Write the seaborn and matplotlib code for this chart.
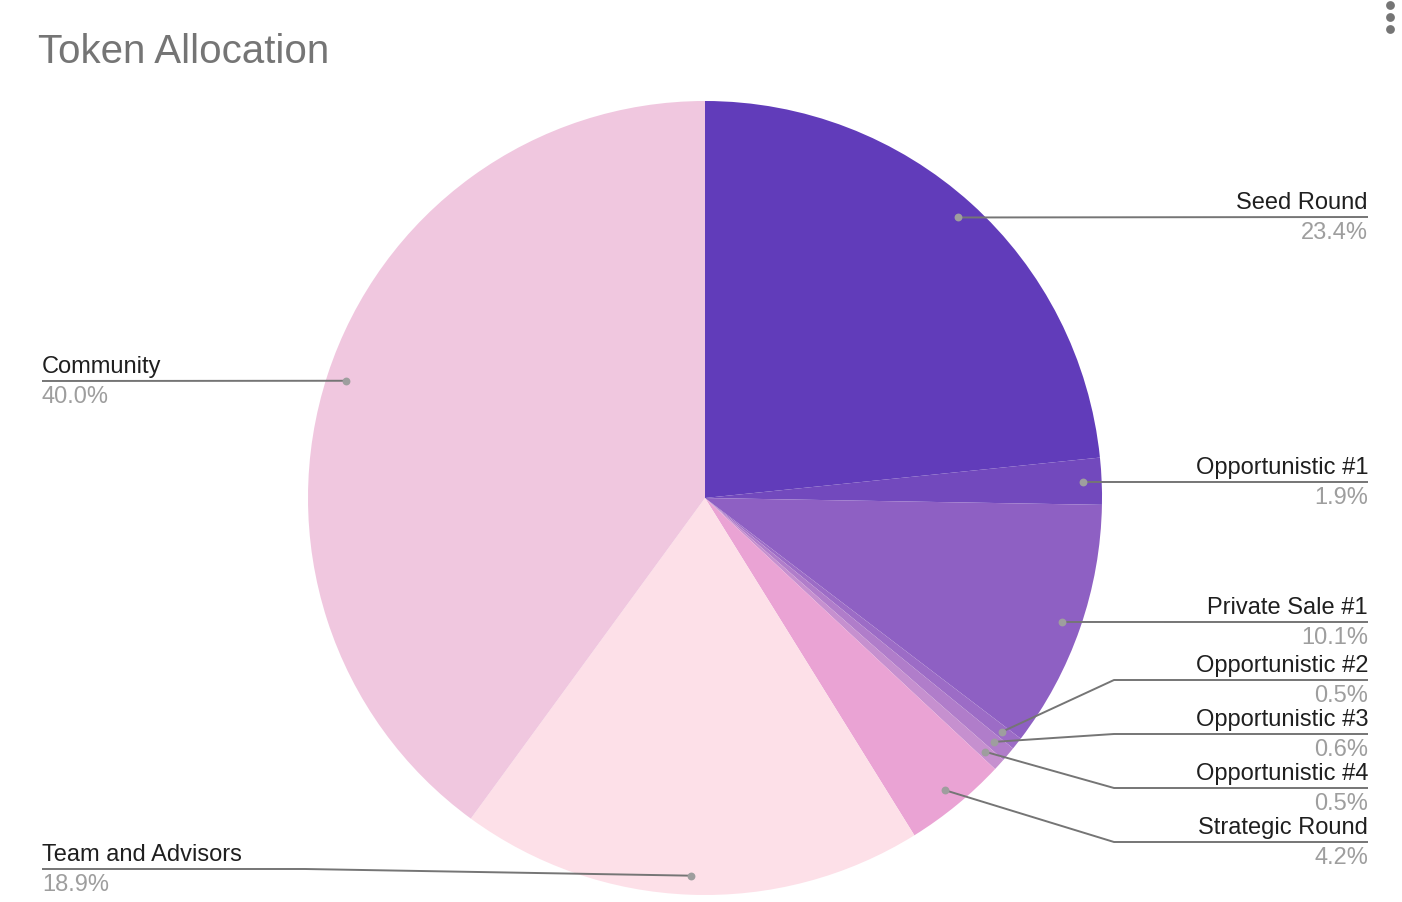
import matplotlib
matplotlib.use("Agg")
import matplotlib.pyplot as plt
import seaborn as sns
import numpy as np

# ---- data ----
labels = ["Seed Round", "Opportunistic #1", "Private Sale #1", "Opportunistic #2",
          "Opportunistic #3", "Opportunistic #4", "Strategic Round",
          "Team and Advisors", "Community"]
values = [23.4, 1.9, 10.1, 0.5, 0.6, 0.5, 4.2, 18.9, 40.0]
pct_labels = ["23.4%", "1.9%", "10.1%", "0.5%", "0.6%", "0.5%", "4.2%", "18.9%", "40.0%"]
title = "Token Allocation"

# ---- styling / layout ----
colors = ["#613cba", "#7249bd", "#8e60c3", "#9c6cc6", "#b07dca", "#c690cf",
          "#eaa3d4", "#fde0e8", "#f0c7df"]
W, H = 1402, 902
CX, CY, R = 705, 498, 397          # pie centre / radius in screen pixels
# label line y (screen px, from top), side, elbow x (None = straight)
label_line_y = [217, 482, 622, 680, 734, 788, 842, 869, 381]
label_side = ["R", "R", "R", "R", "R", "R", "R", "L", "L"]
label_elbow = [None, None, None, 1114, 1114, 1114, 1114, 305, None]
RIGHT_X, LEFT_X = 1368, 42

sns.set_theme(style="white")
plt.rcParams["font.family"] = ["Liberation Sans", "DejaVu Sans"]

fig = plt.figure(figsize=(W / 100, H / 100), dpi=100)
ax = fig.add_axes([0, 0, 1, 1])

def sy(y):
    return H - y

wedges, _ = ax.pie(values, colors=colors, startangle=90, counterclock=False,
                   center=(CX, sy(CY)), radius=R, frame=True,
                   wedgeprops=dict(linewidth=0))
ax.set_xlim(0, W)
ax.set_ylim(0, H)
ax.set_aspect("equal")
ax.axis("off")

line_col = "#757575"
dot_col = "#9e9e9e"
fs = 17
for w, name, pct, ly, side, ex in zip(wedges, labels, pct_labels,
                                       label_line_y, label_side, label_elbow):
    mid = np.deg2rad((w.theta1 + w.theta2) / 2)
    dx = CX + 0.952 * R * np.cos(mid)
    dy = sy(CY) + 0.952 * R * np.sin(mid)
    end_x = RIGHT_X if side == "R" else LEFT_X
    if ex is None:
        xs, ys = [dx, end_x], [dy, sy(ly)]
    else:
        xs, ys = [dx, ex, end_x], [dy, sy(ly), sy(ly)]
    ax.plot(xs, ys, color=line_col, lw=1.4, solid_capstyle="butt", zorder=3)
    ax.scatter([dx], [dy], s=32, color=dot_col, zorder=4, linewidths=0)
    ha = "right" if side == "R" else "left"
    ax.text(end_x, sy(ly - 8), name, ha=ha, va="baseline", fontsize=fs,
            color="#1f1f1f", zorder=5)
    ax.text(end_x, sy(ly + 22), pct, ha=ha, va="baseline", fontsize=fs,
            color="#9e9e9e", zorder=5)

fig.text(38 / W, 1 - 63 / H, title, ha="left", va="baseline", fontsize=29,
         color="#757575")

# menu dots (top right)
for yy in (5, 17, 29):
    ax.scatter([1390], [sy(yy)], s=40, color="#757575", linewidths=0, zorder=5,
               clip_on=False)

fig.savefig("out.png", dpi=100, facecolor="white")
